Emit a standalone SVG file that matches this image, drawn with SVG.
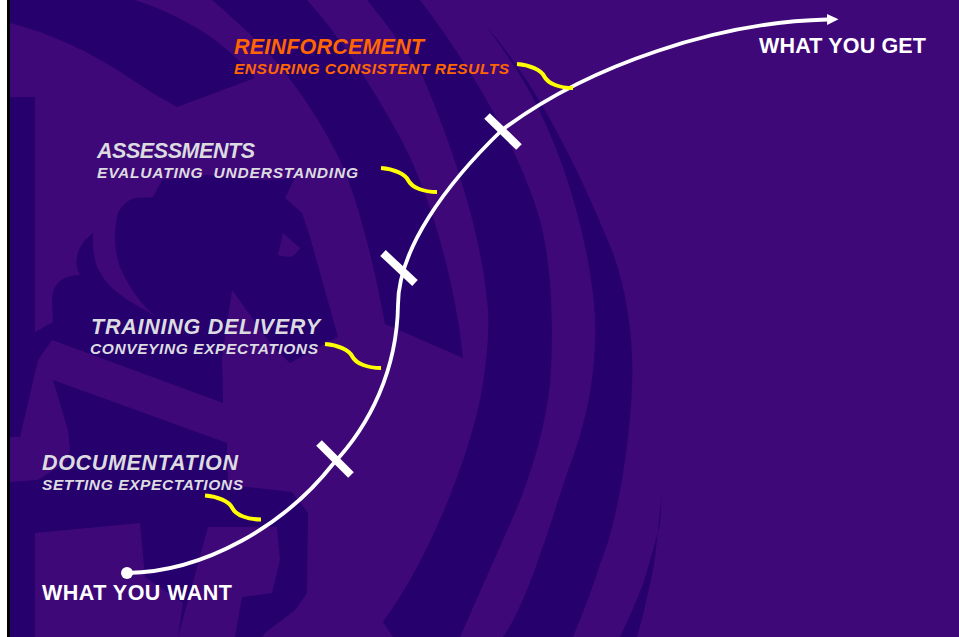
<svg xmlns="http://www.w3.org/2000/svg" width="959" height="637" viewBox="0 0 959 637">
<defs>
<style>
.dark{fill:#26006c}
.bgp{fill:#3f0878}
.t{font-family:"Liberation Sans",Arial,sans-serif;font-weight:bold;font-style:italic;white-space:pre}
.h{font-size:21.5px}
.s{font-size:15.5px}
.g{fill:#dcdce0}
.o{fill:#ff6600}
.w{font-family:"Liberation Sans",Arial,sans-serif;font-weight:bold;font-size:21.5px;fill:#fff}
.curve{fill:none;stroke:#fff;stroke-width:3.8}
.tick{stroke:#fff;stroke-width:8;fill:none}
.sq{fill:none;stroke:#ffff00;stroke-width:4}
</style>
<marker id="ah" markerUnits="userSpaceOnUse" markerWidth="12" markerHeight="12" refX="0" refY="6" orient="auto"><path d="M0,0.5L11.5,6L0,11.5z" fill="#fff"/></marker>
<path id="squig" d="M517,64C530,65 541,70 544,76C548,84 560,88 573,88"/>
</defs>
<rect width="959" height="637" class="bgp"/>
<g id="background">
<path class="dark" d="M10,0H135C165,10 195,25 215,40C230,52 245,65 255,78L177,107C155,95 140,85 122,73C90,52 50,33 10,23Z"/>
<path class="dark" d="M212,0H307C345,42 380,100 403,143C430,195 455,280 463,358L385,324C375,270 360,205 340,160C320,120 300,90 272,57C255,38 235,20 212,0Z"/>
<path class="dark" d="M367,0H420C470,65 520,150 540,220C552,265 554,330 550,384C545,430 530,480 510,524L460,637H393L383,622C425,565 465,470 480,400C488,360 490,320 487,300C482,245 462,170 423,77C405,50 388,25 367,0Z"/>
<path class="dark" d="M487,27C525,72 565,135 613,253C628,295 634,345 632,384C630,450 615,530 600,564C592,590 582,615 573,637H503C530,600 555,505 573,457C590,410 597,360 595,317C592,260 570,160 523,80C512,62 500,45 487,27Z"/>
<path class="dark" d="M662,494L658,530C656,550 654,568 650,584C646,602 642,620 637,637H620C628,620 636,602 643,584C650,562 656,540 660,524Z"/>
<path class="dark" d="M10,97H35V332L53,322L52,300C52,292 54,288 58,283C64,277 72,275 80,275C76,268 76,262 77,257C78,250 82,244 85,240L93,233C92,250 95,265 100,272C110,292 135,305 158,317C142,308 128,285 120,267C116,255 115,245 115,237C115,228 116,220 118,213C122,205 128,200 135,198L153,197L162,180L205,175L265,180L295,178L285,198L302,213L310,237L338,337L290,363L273,347L232,290L222,357L223,403L52,340L38,360L20,437H10Z"/>
<path class="bgp" d="M283,233L300,248C296,254 292,257 290,257C286,257 282,256 278,255Z"/>
<path class="dark" d="M53,380L227,443L228,485L292,492L308,513L307,593L295,610L265,633L262,637H235L242,597L272,593L280,560L277,527H208L178,637L183,603L145,577L140,523L35,533V637H10V482L38,480L68,460L70,448L68,430Z"/>
</g>
<rect x="0" y="0" width="7" height="637" fill="#fff"/>
<rect x="7" y="0" width="3" height="637" fill="#000"/>
<g id="connectors">
<path class="curve" marker-end="url(#ah)" d="M127,573C205,572 285,525 333,464C370,425 397,370 398,305C398,250 445,185 502,130C590,64 720,22 827,19.500"/>
<line class="tick" x1="319" y1="443" x2="351" y2="475"/>
<line class="tick" x1="383" y1="253" x2="415" y2="283"/>
<line class="tick" x1="487" y1="116" x2="519" y2="147"/>
<use href="#squig" class="sq"/>
<use href="#squig" class="sq" transform="translate(-136,104)"/>
<use href="#squig" class="sq" transform="translate(-192,280)"/>
<use href="#squig" class="sq" transform="translate(-312,431.500)"/>
</g>
<g id="node-start">
<circle cx="127" cy="573" r="6" fill="#fff"/>
<text class="w" x="42" y="600" textLength="190">WHAT YOU WANT</text>
</g>
<g id="node-end">
<text class="w" x="759" y="53" textLength="167">WHAT YOU GET</text>
</g>
<g id="node-reinforcement">
<text class="t h o" x="234" y="54" textLength="190">REINFORCEMENT</text>
<text class="t s o" x="234" y="74" textLength="275">ENSURING CONSISTENT RESULTS</text>
</g>
<g id="node-assessments">
<text class="t h g" x="97" y="158" textLength="158">ASSESSMENTS</text>
<text class="t s g" x="97" y="178" textLength="261">EVALUATING  UNDERSTANDING</text>
</g>
<g id="node-training">
<text class="t h g" x="91" y="334" textLength="229">TRAINING DELIVERY</text>
<text class="t s g" x="90" y="354" textLength="228">CONVEYING EXPECTATIONS</text>
</g>
<g id="node-documentation">
<text class="t h g" x="42" y="470" textLength="196">DOCUMENTATION</text>
<text class="t s g" x="42" y="490" textLength="201">SETTING EXPECTATIONS</text>
</g>
</svg>
